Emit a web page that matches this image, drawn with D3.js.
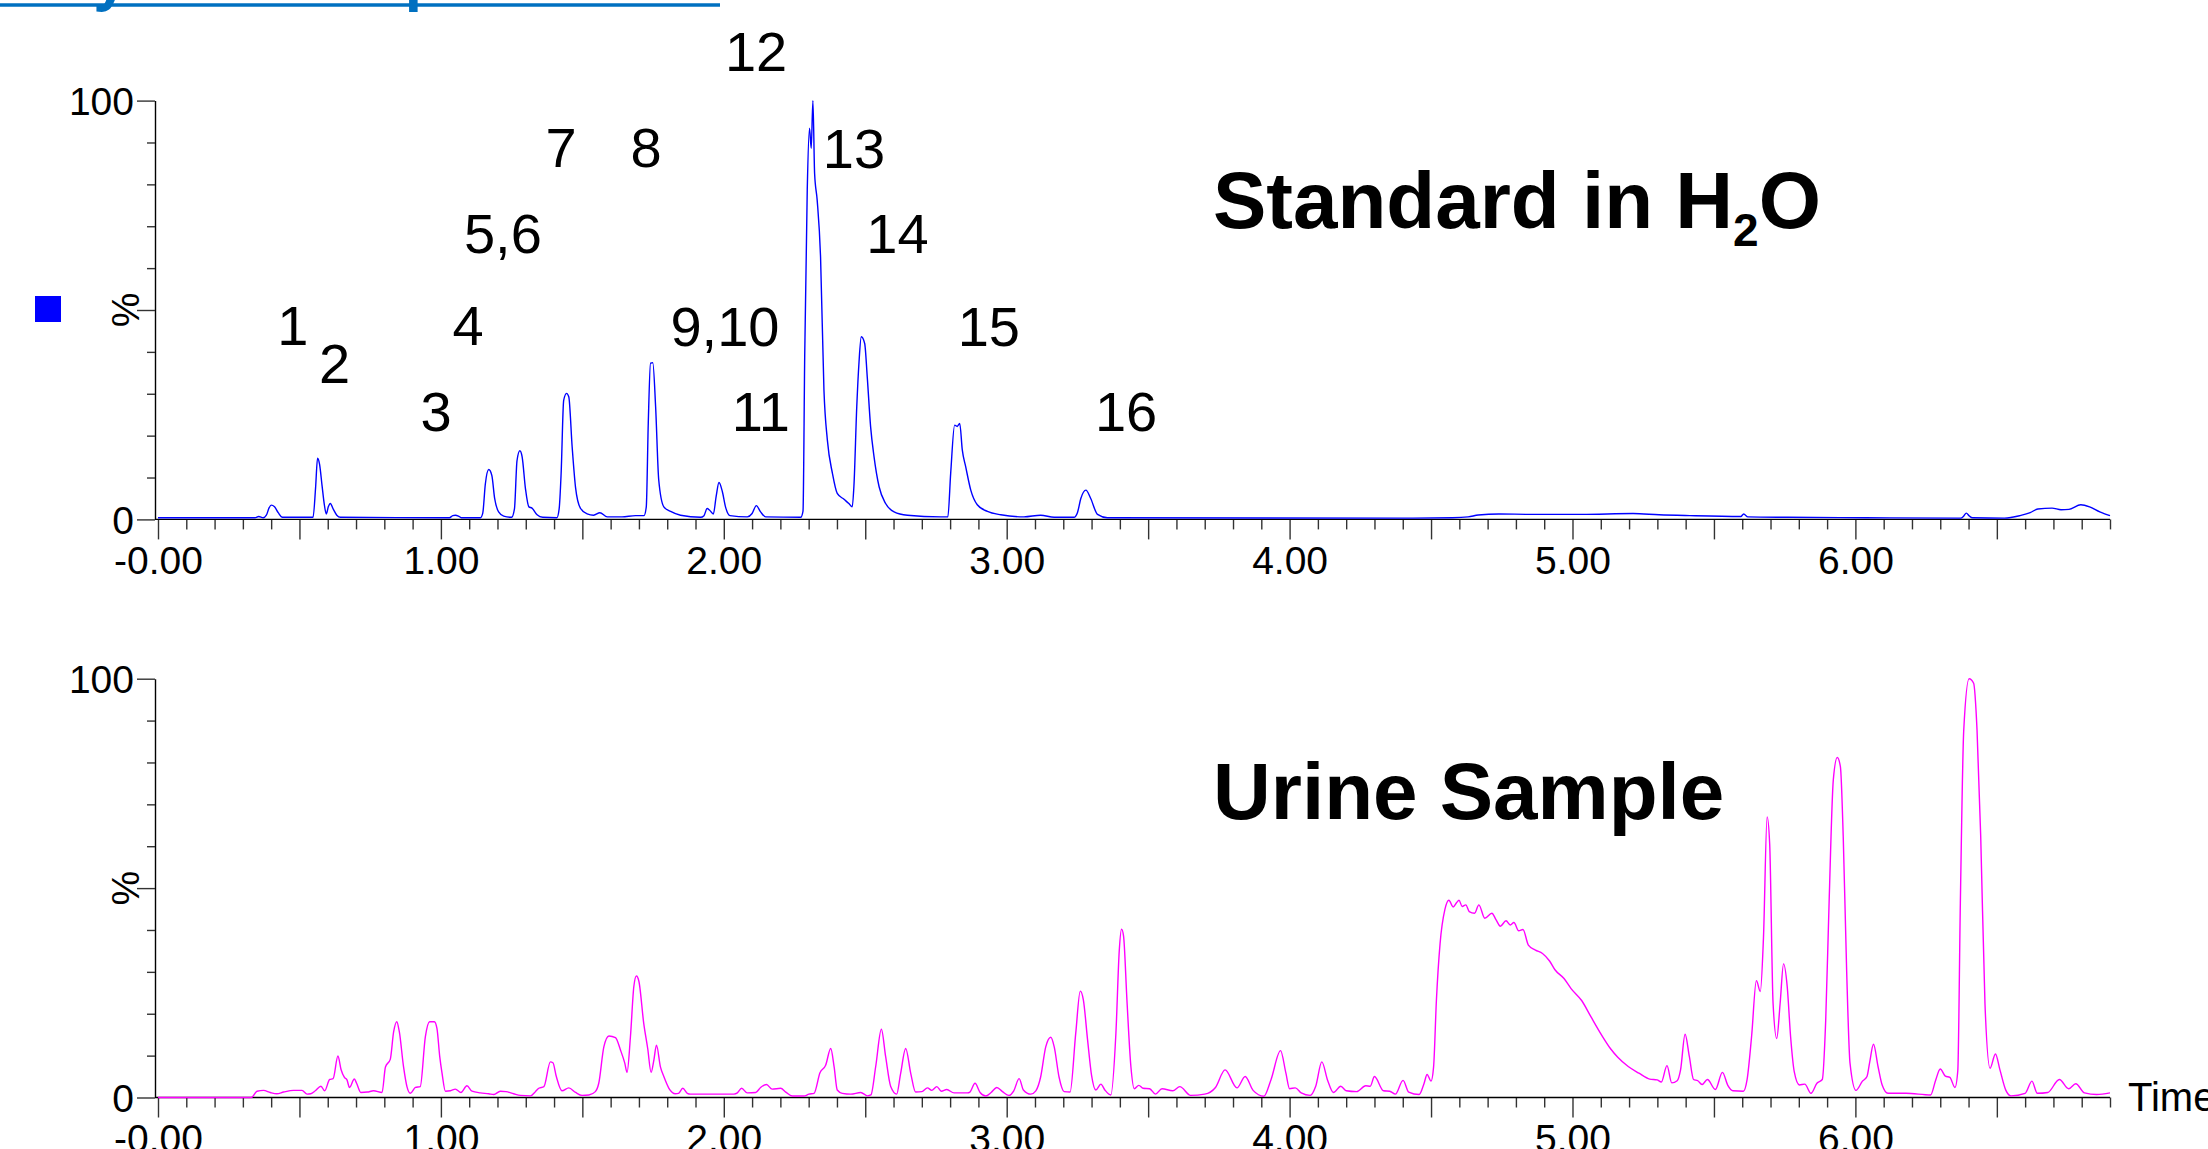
<!DOCTYPE html>
<html>
<head>
<meta charset="utf-8">
<script src="https://cdn.jsdelivr.net/npm/d3@7"></script>
<style>
  body { margin: 0; background: #fff; }
  svg { display: block; font-family: "Liberation Sans", Arial, sans-serif; }
</style>
</head>
<body>
<script>
// time (min) and intensity (%)
const standardTrace = [
  [0.000,0.4],[0.250,0.4],[0.343,0.4],[0.356,0.7],[0.372,0.4],[0.383,1.0],[0.393,2.8],[0.400,3.4],[0.412,3.0],[0.425,1.6],[0.440,0.5],
  [0.548,0.5],[0.557,7.5],[0.564,14.6],[0.571,13.2],[0.580,8.0],[0.588,3.5],[0.595,1.3],[0.602,3.0],[0.609,3.8],[0.620,2.4],[0.632,1.0],[0.645,0.5],
  [1.030,0.4],[1.042,0.9],[1.051,1.0],[1.062,0.8],[1.072,0.4],[1.140,0.4],[1.148,1.5],[1.157,8.4],[1.169,11.9],[1.180,10.5],[1.190,5.0],[1.204,1.8],
  [1.222,0.8],[1.250,0.5],[1.260,2.5],[1.269,14.0],[1.279,16.4],[1.287,15.0],[1.299,7.3],[1.311,3.0],[1.322,2.7],[1.340,1.1],[1.360,0.5],
  [1.410,0.4],[1.418,2.5],[1.425,11.0],[1.434,28.4],[1.444,30.1],[1.452,29.3],[1.464,17.3],[1.476,7.6],[1.493,2.7],[1.517,1.3],[1.540,1.0],
  [1.562,1.6],[1.588,0.6],[1.640,0.6],[1.688,0.9],[1.718,0.9],[1.726,3.0],[1.733,22.9],[1.741,37.3],[1.749,37.4],[1.759,26.9],[1.770,9.4],
  [1.788,3.0],[1.812,1.9],[1.847,1.0],[1.918,0.5],[1.930,0.9],[1.941,2.6],[1.950,2.2],[1.963,1.3],[1.973,5.5],[1.983,8.8],[1.995,6.6],[2.006,3.0],
  [2.022,0.9],[2.083,0.6],[2.100,1.4],[2.115,3.3],[2.130,1.8],[2.148,0.6],[2.272,0.5],[2.280,2.0],[2.286,38.9],[2.295,78.7],[2.303,93.4],
  [2.309,88.6],[2.315,100],[2.321,82.6],[2.330,76.3],[2.342,62.7],[2.354,30.9],[2.366,19.0],[2.384,11.0],[2.401,6.2],[2.425,4.8],[2.442,3.8],
  [2.454,3.0],[2.460,8.0],[2.470,26.9],[2.478,37.6],[2.486,43.6],[2.498,42.0],[2.507,34.1],[2.519,22.1],[2.531,15.0],[2.549,7.8],[2.572,3.8],
  [2.602,1.8],[2.649,1.0],[2.767,0.6],[2.792,0.6],[2.802,11.0],[2.816,22.5],[2.825,22.2],[2.834,22.9],[2.843,16.6],[2.855,12.6],[2.873,7.0],
  [2.896,3.5],[2.932,1.9],[2.979,1.1],[3.061,0.6],[3.120,1.0],[3.168,0.5],[3.238,0.5],[3.250,1.6],[3.262,5.0],[3.280,7.0],[3.297,5.0],[3.321,1.2],
  [3.356,0.4],[4.394,0.3],[4.576,0.4],[4.631,0.6],[4.667,1.05],[4.740,1.3],[4.850,1.2],[5.032,1.2],[5.214,1.4],[5.306,1.1],[5.415,0.9],
  [5.595,0.7],[5.605,1.3],[5.620,0.6],[5.761,0.5],[6.035,0.4],[6.372,0.3],[6.383,0.8],[6.392,1.5],[6.403,0.8],[6.414,0.4],[6.527,0.3],
  [6.582,0.9],[6.618,1.6],[6.645,2.5],[6.695,2.7],[6.727,2.3],[6.755,2.4],[6.797,3.5],[6.828,3.0],[6.864,1.8],[6.900,0.9]
];

const urineTrace = [
  [0.000,0.0],[0.330,0.0],[0.350,1.5],[0.373,1.7],[0.397,1.2],[0.420,0.9],[0.444,1.3],[0.479,1.7],[0.509,1.7],[0.527,0.8],[0.540,0.9],
  [0.556,1.6],[0.576,2.7],[0.589,1.6],[0.607,4.3],[0.619,4.5],[0.636,9.9],[0.647,6.7],[0.659,4.8],[0.668,4.2],[0.677,2.4],[0.694,4.4],
  [0.702,3.4],[0.717,1.2],[0.740,1.3],[0.762,1.6],[0.792,1.2],[0.804,7.3],[0.821,9.1],[0.833,15.7],[0.844,18.1],[0.853,15.7],[0.868,7.3],
  [0.880,2.6],[0.892,1.0],[0.910,2.4],[0.927,2.6],[0.945,14.5],[0.960,18.1],[0.977,18.1],[0.986,16.5],[0.996,9.7],[1.004,5.8],[1.016,1.5],
  [1.034,1.6],[1.051,2.0],[1.071,1.2],[1.092,2.8],[1.110,1.5],[1.140,1.1],[1.169,0.9],[1.187,0.7],[1.210,1.5],[1.230,1.4],[1.257,0.9],
  [1.281,0.5],[1.317,0.4],[1.334,1.4],[1.346,2.2],[1.364,2.6],[1.387,8.5],[1.396,8.3],[1.408,5.0],[1.428,1.6],[1.452,2.3],[1.476,1.2],
  [1.499,0.5],[1.523,0.6],[1.546,1.4],[1.558,3.4],[1.576,12.1],[1.594,14.7],[1.617,14.3],[1.635,11.3],[1.650,8.2],[1.658,6.0],[1.670,14.5],
  [1.682,26.5],[1.691,29.0],[1.700,27.7],[1.717,17.7],[1.731,11.7],[1.743,6.0],[1.753,9.0],[1.762,12.5],[1.776,7.3],[1.788,5.0],[1.806,2.2],
  [1.829,0.9],[1.840,1.0],[1.855,2.2],[1.871,1.0],[1.882,0.8],[2.036,0.8],[2.048,1.1],[2.063,2.2],[2.083,1.1],[2.113,1.2],[2.130,2.4],
  [2.151,3.1],[2.171,2.0],[2.201,2.2],[2.219,1.3],[2.242,0.35],[2.283,0.35],[2.301,0.8],[2.319,1.0],[2.340,5.9],[2.360,7.7],[2.378,11.7],
  [2.390,7.3],[2.401,1.8],[2.419,1.0],[2.449,0.8],[2.484,1.2],[2.508,0.4],[2.520,0.6],[2.537,7.4],[2.557,16.3],[2.572,9.8],[2.590,2.6],
  [2.611,0.8],[2.625,5.7],[2.643,11.7],[2.661,5.7],[2.678,1.3],[2.700,1.4],[2.720,2.3],[2.735,1.7],[2.753,2.6],[2.769,1.5],[2.788,1.9],
  [2.814,1.1],[2.861,1.1],[2.870,1.3],[2.888,3.4],[2.906,1.2],[2.926,0.35],[2.945,1.2],[2.965,2.4],[2.985,1.4],[3.008,0.5],[3.025,1.6],
  [3.044,4.5],[3.059,1.8],[3.085,0.8],[3.103,1.6],[3.120,4.9],[3.138,12.1],[3.156,14.4],[3.168,12.1],[3.185,4.9],[3.203,1.4],[3.224,1.3],
  [3.244,15.3],[3.260,25.4],[3.271,23.3],[3.286,13.7],[3.300,5.3],[3.315,1.8],[3.333,3.2],[3.347,1.8],[3.368,0.6],[3.386,15.3],[3.398,35.2],
  [3.406,40.2],[3.413,38.6],[3.425,23.3],[3.439,7.4],[3.451,2.1],[3.467,2.9],[3.482,2.2],[3.505,2.1],[3.526,0.8],[3.549,2.1],[3.587,1.6],
  [3.612,2.6],[3.650,0.5],[3.700,0.8],[3.738,2.4],[3.772,6.6],[3.814,2.3],[3.843,5.0],[3.871,1.7],[3.909,0.3],[3.934,4.2],[3.968,11.2],
  [3.987,5.8],[4.000,2.1],[4.020,2.3],[4.041,1.1],[4.073,0.5],[4.092,2.6],[4.114,8.5],[4.134,4.2],[4.155,1.2],[4.181,2.7],[4.200,1.6],
  [4.237,1.4],[4.269,2.8],[4.285,2.7],[4.300,5.0],[4.332,1.6],[4.354,1.5],[4.374,0.8],[4.401,4.1],[4.421,1.3],[4.458,0.7],[4.475,3.3],
  [4.486,5.5],[4.500,3.9],[4.509,7.3],[4.519,23.3],[4.532,36.8],[4.549,44.9],[4.563,47.1],[4.578,45.5],[4.590,46.5],[4.599,47.1],[4.610,45.6],
  [4.623,46.0],[4.635,44.4],[4.654,44.0],[4.669,46.0],[4.690,42.8],[4.715,44.0],[4.730,42.4],[4.745,40.9],[4.765,42.2],[4.780,41.2],
  [4.793,41.8],[4.810,39.8],[4.825,40.1],[4.844,36.4],[4.869,35.2],[4.894,34.4],[4.919,32.6],[4.938,30.5],[4.970,28.4],[4.995,26.0],
  [5.033,23.1],[5.065,19.3],[5.103,14.9],[5.134,11.7],[5.160,9.6],[5.197,7.4],[5.235,5.8],[5.273,4.4],[5.299,4.2],[5.314,3.7],[5.334,7.6],
  [5.351,3.5],[5.370,4.0],[5.382,6.6],[5.398,15.1],[5.413,9.8],[5.428,4.3],[5.443,4.0],[5.458,3.1],[5.477,4.3],[5.505,1.9],[5.530,6.0],
  [5.549,2.9],[5.567,1.6],[5.604,1.5],[5.617,4.2],[5.633,14.5],[5.650,27.9],[5.664,25.3],[5.675,38.0],[5.688,67.0],[5.697,60.6],[5.709,22.5],
  [5.722,14.1],[5.734,22.5],[5.746,31.9],[5.759,26.5],[5.771,14.5],[5.784,6.1],[5.802,3.0],[5.821,3.2],[5.843,1.0],[5.864,3.4],[5.883,4.3],
  [5.895,18.3],[5.907,46.4],[5.922,75.9],[5.936,81.2],[5.947,79.0],[5.957,62.3],[5.969,30.5],[5.981,8.2],[6.002,1.7],[6.025,3.9],[6.041,5.0],
  [6.050,8.2],[6.064,12.7],[6.080,7.4],[6.095,2.9],[6.115,1.0],[6.179,1.0],[6.266,0.6],[6.284,4.2],[6.300,6.8],[6.318,5.1],[6.334,4.8],
  [6.352,2.4],[6.362,6.4],[6.371,46.4],[6.383,87.7],[6.402,100],[6.418,98.9],[6.430,87.7],[6.443,62.3],[6.458,22.5],[6.476,7.0],[6.495,10.4],
  [6.511,6.6],[6.532,1.7],[6.550,0.4],[6.600,1.0],[6.624,3.9],[6.643,1.0],[6.680,1.2],[6.721,4.3],[6.754,2.1],[6.779,3.3],[6.810,1.1],
  [6.853,0.7],[6.900,1.1]
];

// peak numbers on the standard run: text, time position, height (%)
const peakLabels = ["1","2","3","4","5,6","7","8","9,10","11","12","13","14","15","16"];
const labelTimes = [0.477,0.624,0.983,1.096,1.219,1.425,1.725,2.004,2.131,2.114,2.460,2.614,2.937,3.422];
const labelLevels = [41.6,32.6,21.2,41.6,63.6,84.1,84.1,41.4,21.2,107.1,83.8,63.5,41.4,21.2];

const xTickLabels = ["-0.00","1.00","2.00","3.00","4.00","5.00","6.00"];
const yTickLabels = [0, 100];

const W = 2208, H = 1149;
const font = '"Liberation Sans", Arial, sans-serif';

const svg = d3.select("body").append("svg")
    .attr("width", W)
    .attr("height", H);

// slide heading, mostly off the top of the picture
svg.append("line")
    .attr("x1", 0).attr("x2", 720)
    .attr("y1", 5).attr("y2", 5)
    .attr("stroke", "#0070c0")
    .attr("stroke-width", 3.5);
let heading = svg.append("text")
    .attr("y", -1)
    .attr("fill", "#0070c0")
    .style("font-size", "62px")
    .style("font-weight", "bold");
heading.append("tspan").attr("x", -55).text("Assay");
heading.append("tspan").attr("x", 267).text("Comparison");

let x = d3.scaleLinear()
    .domain([0, 6.9])
    .range([158, 2110]);

function drawPanel(trace, color, top, bottom) {
    let y = d3.scaleLinear()
        .domain([0, 100])
        .range([bottom, top]);
    let g = svg.append("g");
    let axisX = x(0) - 3;

    // x axis: minor every 0.1, long every 0.5, labels every 1
    let xTicks = d3.range(0, 70).map(i => i / 10);
    let xAxis = d3.axisBottom(x)
        .tickValues(xTicks)
        .tickSize(10)
        .tickSizeOuter(0)
        .tickFormat((d, i) => i % 10 === 0 ? xTickLabels[i / 10] : "");
    g.append("g")
        .attr("transform", `translate(0,${y(0)})`)
        .call(xAxis)
        .call(a => a.select(".domain").remove())
        .call(a => a.selectAll(".tick line")
            .attr("stroke", "#333")
            .attr("stroke-width", 1.4)
            .attr("y2", (d, i) => i % 5 === 0 ? 20 : 10))
        .call(a => a.selectAll(".tick text")
            .attr("y", 27)
            .attr("dy", "0.71em")
            .attr("fill", "#000")
            .style("font-size", "39px")
            .style("font-family", font));

    g.append("line")
        .attr("x1", axisX).attr("x2", x(6.9))
        .attr("y1", y(0)).attr("y2", y(0))
        .attr("stroke", "#000")
        .attr("stroke-width", 1.4);

    // y axis
    let yAxis = d3.axisLeft(y)
        .tickValues(d3.range(0, 101, 10))
        .tickSize(8)
        .tickSizeOuter(0)
        .tickFormat(d => yTickLabels.includes(d) ? String(d) : "");
    g.append("g")
        .attr("transform", `translate(${axisX},0)`)
        .call(yAxis)
        .call(a => a.select(".domain").attr("stroke", "#000").attr("stroke-width", 1.4))
        .call(a => a.selectAll(".tick line")
            .attr("stroke", "#333")
            .attr("stroke-width", 1.4)
            .attr("x2", d => d % 50 === 0 ? -18 : -8))
        .call(a => a.selectAll(".tick text")
            .attr("x", -21)
            .attr("dy", "0.35em")
            .attr("fill", "#000")
            .style("font-size", "39px")
            .style("font-family", font));

    g.append("text")
        .attr("transform", `translate(139,${y(50)}) rotate(-90)`)
        .attr("text-anchor", "middle")
        .style("font-size", "39px")
        .text("%");

    let line = d3.line()
        .curve(d3.curveMonotoneX)
        .x(d => x(d[0]))
        .y(d => y(d[1]));
    g.append("path")
        .datum(trace)
        .attr("d", line)
        .attr("fill", "none")
        .attr("stroke", color)
        .attr("stroke-width", 1.4)
        .attr("stroke-linejoin", "round");

    return { g: g, y: y };
}

let stdPanel = drawPanel(standardTrace, "#0000ff", 100.6, 519.4);
let urinePanel = drawPanel(urineTrace, "#ff00ff", 678.7, 1097.5);

// legend swatch beside the top trace
stdPanel.g.append("rect")
    .attr("x", 35)
    .attr("y", stdPanel.y(50) - 14)
    .attr("width", 26)
    .attr("height", 26)
    .attr("fill", "#0000ff");

stdPanel.g.selectAll(".peak-label")
    .data(peakLabels)
    .enter().append("text")
    .attr("class", "peak-label")
    .attr("x", (d, i) => x(labelTimes[i]))
    .attr("y", (d, i) => stdPanel.y(labelLevels[i]))
    .attr("text-anchor", "middle")
    .style("font-size", "56px")
    .text(d => d);

let stdTitle = svg.append("text")
    .attr("x", 1213)
    .attr("y", 227.5)
    .style("font-size", "80px")
    .style("font-weight", "bold");
stdTitle.append("tspan").text("Standard in H");
stdTitle.append("tspan").attr("dy", 18).style("font-size", "46px").text("2");
stdTitle.append("tspan").attr("dy", -18).text("O");

svg.append("text")
    .attr("x", 1213)
    .attr("y", 818.8)
    .style("font-size", "80px")
    .style("font-weight", "bold")
    .text("Urine Sample");

svg.append("text")
    .attr("x", 2128)
    .attr("y", urinePanel.y(0) + 13)
    .style("font-size", "40px")
    .text("Time");
</script>
</body>
</html>
